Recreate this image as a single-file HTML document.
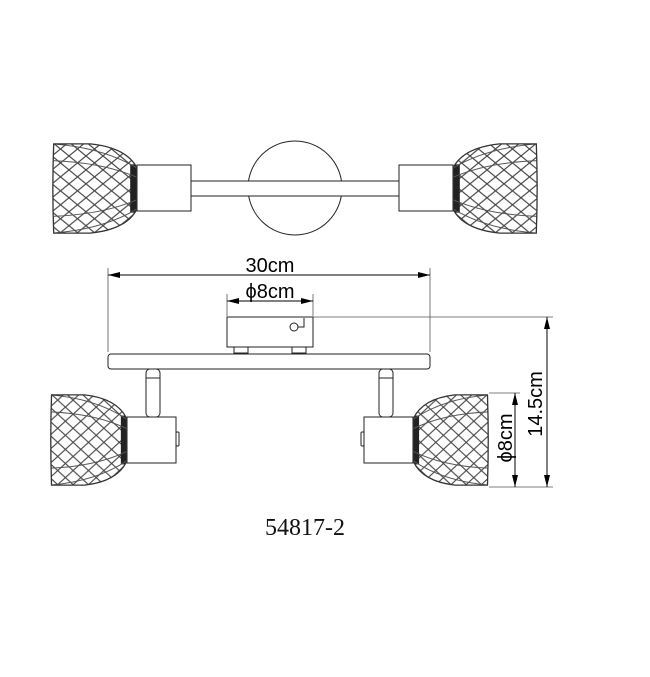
<!DOCTYPE html>
<html><head><meta charset="utf-8"><style>
html,body{margin:0;padding:0;background:#fff;width:650px;height:677px;overflow:hidden}
svg{display:block}
</style></head><body>
<svg width="650" height="677" viewBox="0 0 650 677" xmlns="http://www.w3.org/2000/svg">
<defs>
<pattern id="mesh" width="20" height="15" patternUnits="userSpaceOnUse">
<rect width="20" height="15" fill="#fff"/>
<path d="M-1,-0.75 L21,15.75 M21,-0.75 L-1,15.75" stroke="#444" stroke-width="1.3" fill="none"/>
</pattern>
<clipPath id="cup" clipPathUnits="objectBoundingBox">
<path d="M0.02,0.02 Q0,0.5 0.02,0.98 L0.45,0.98 Q0.88,0.94 1,0.72 L1,0.28 Q0.88,0.06 0.45,0.02 Z"/>
</clipPath>
<symbol id="shade" viewBox="0 0 100 100" preserveAspectRatio="none">
<g clip-path="url(#cup)">
<rect x="0" y="0" width="100" height="100" fill="url(#mesh)"/>
<rect x="92" y="24" width="8" height="52" fill="#222"/>
<path d="M0,2 Q60,6 100,28 M0,98 Q60,94 100,72 M0,20 Q60,22 100,38 M0,80 Q60,78 100,62" stroke="#555" stroke-width="1" fill="none" vector-effect="non-scaling-stroke"/>
</g>
<path d="M2,2 Q0,50 2,98 L45,98 Q88,94 100,72 L100,28 Q88,6 45,2 Z" fill="none" stroke="#333" stroke-width="1.3" vector-effect="non-scaling-stroke"/>
</symbol>
<marker id="ar" markerWidth="12" markerHeight="6" refX="12" refY="3" orient="auto" markerUnits="userSpaceOnUse">
<path d="M0,0 L12,3 L0,6 Z" fill="#000"/>
</marker>
</defs>

<g stroke="#222" stroke-width="1" fill="#fff">
<circle cx="295" cy="188" r="47"/>
<rect x="190" y="181" width="210" height="15"/>
<rect x="137" y="165" width="54" height="46"/>
<rect x="399" y="165" width="54" height="46"/>
</g>
<use href="#shade" x="52" y="142" width="85" height="93"/>
<use href="#shade" x="0" y="0" width="85" height="93" transform="translate(538,142) scale(-1,1)"/>

<g stroke="#555" stroke-width="0.8" fill="none">
<line x1="108" y1="268" x2="108" y2="352"/>
<line x1="430" y1="268" x2="430" y2="352"/>
<line x1="227" y1="294" x2="227" y2="316"/>
<line x1="313" y1="294" x2="313" y2="316"/>
<line x1="313" y1="317" x2="553" y2="317"/>
<line x1="489" y1="393" x2="520" y2="393"/>
<line x1="489" y1="487" x2="553" y2="487"/>
</g>
<g stroke="#000" stroke-width="1">
<line x1="120" y1="275" x2="430" y2="275" marker-end="url(#ar)"/>
<line x1="420" y1="275" x2="108" y2="275" marker-end="url(#ar)"/>
<line x1="235" y1="301" x2="313" y2="301" marker-end="url(#ar)"/>
<line x1="305" y1="301" x2="227" y2="301" marker-end="url(#ar)"/>
<line x1="547" y1="330" x2="547" y2="487" marker-end="url(#ar)"/>
<line x1="547" y1="475" x2="547" y2="317" marker-end="url(#ar)"/>
<line x1="515" y1="405" x2="515" y2="487" marker-end="url(#ar)"/>
<line x1="515" y1="475" x2="515" y2="393" marker-end="url(#ar)"/>
</g>
<g font-family="Liberation Sans, sans-serif" font-size="20" fill="#000" text-anchor="middle">
<text x="270" y="272">30cm</text>
<text x="270" y="298">ϕ8cm</text>
<text transform="translate(542,404) rotate(-90)">14.5cm</text>
<text transform="translate(512,438) rotate(-90)">ϕ8cm</text>
</g>

<g stroke="#222" stroke-width="1" fill="#fff">
<rect x="227" y="317" width="86" height="30"/>
<rect x="234" y="347" width="14" height="6"/>
<rect x="292" y="347" width="14" height="6"/>
<rect x="108" y="354" width="322" height="15" rx="3"/>
<rect x="146" y="369" width="14" height="48" rx="4"/>
<rect x="379" y="369" width="14" height="48" rx="4"/>
<line x1="146" y1="378" x2="160" y2="378"/>
<line x1="379" y1="378" x2="393" y2="378"/>
<rect x="127" y="417" width="49" height="46"/>
<rect x="364" y="417" width="49" height="46"/>
<rect x="176" y="432" width="3" height="14" rx="1"/>
<rect x="361" y="432" width="3" height="14" rx="1"/>
<circle cx="294" cy="327" r="4"/>
<path d="M298,327 L304,327 L304,318" fill="none"/>
</g>
<use href="#shade" x="50" y="393" width="77" height="94"/>
<use href="#shade" x="0" y="0" width="76" height="94" transform="translate(489,393) scale(-1,1)"/>

<text x="305" y="535" font-family="Liberation Serif, serif" font-size="24" text-anchor="middle" fill="#111">54817-2</text>
</svg>
</body></html>
